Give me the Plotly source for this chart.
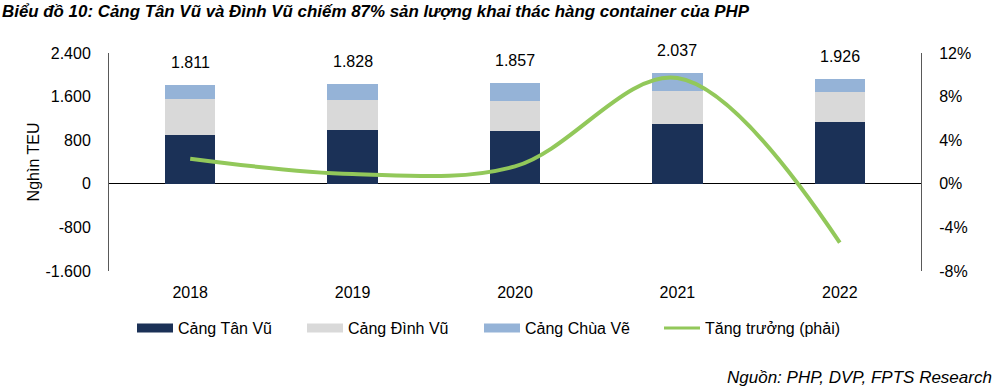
import plotly.graph_objects as go

years = ["2018", "2019", "2020", "2021", "2022"]
tan_vu = [899, 985, 972, 1095, 1132]
dinh_vu = [661, 556, 551, 606, 556]
chua_ve = [251, 287, 334, 336, 238]
totals = [1811, 1828, 1857, 2037, 1926]
total_labels = ["1.811", "1.828", "1.857", "2.037", "1.926"]
growth = [0.023, 0.009, 0.016, 0.097, -0.054]

left_tickvals = [-1600, -800, 0, 800, 1600, 2400]
left_ticktext = ["-1.600", "-800", "0", "800", "1.600", "2.400"]
right_tickvals = [-0.08, -0.04, 0, 0.04, 0.08, 0.12]
right_ticktext = ["-8%", "-4%", "0%", "4%", "8%", "12%"]

NAVY = "#1B3157"
GRAY = "#D9D9D9"
BLUE = "#95B3D7"
GREEN = "#92C85A"
FONT = "Arial, Liberation Sans, sans-serif"

fig = go.Figure()
for name, vals, col in [("Cảng Tân Vũ", tan_vu, NAVY), ("Cảng Đình Vũ", dinh_vu, GRAY), ("Cảng Chùa Vẽ", chua_ve, BLUE)]:
    fig.add_trace(go.Bar(x=years, y=vals, name=name, marker=dict(color=col, line=dict(width=0)),
                         width=0.31, showlegend=False, yaxis="y"))

fig.add_trace(go.Scatter(x=years, y=growth, name="Tăng trưởng (phải)", mode="lines",
                         line=dict(color=GREEN, width=4, shape="spline", smoothing=1),
                         yaxis="y2", showlegend=False))

# legend proxies, one legend each for exact placement
legend_items = [("Cảng Tân Vũ", NAVY, 9, "legend"), ("Cảng Đình Vũ", GRAY, 9, "legend2"),
                ("Cảng Chùa Vẽ", BLUE, 9, "legend3"), ("Tăng trưởng (phải)", GREEN, 3, "legend4")]
for name, col, w, lg in legend_items:
    fig.add_trace(go.Scatter(x=[None], y=[None], mode="lines", name=name,
                             line=dict(color=col, width=w), showlegend=True, legend=lg))

for i, (y, t) in enumerate(zip(totals, total_labels)):
    fig.add_annotation(x=i, y=y, text=t, showarrow=False, yanchor="bottom", yshift=12,
                       font=dict(size=16, color="#000000", family=FONT), xref="x", yref="y")

fig.add_annotation(text="Nguồn: PHP, DVP, FPTS Research", xref="paper", yref="paper",
                   x=(994 - 109) / 812, y=(271 - 377) / 218, xanchor="right", yanchor="middle",
                   showarrow=False, font=dict(size=17, family=FONT, color="#000000", style="italic"))


def leg(x):
    return dict(orientation="h", xref="container", yref="container", x=x, xanchor="left",
                y=1 - 328 / 392, yanchor="middle", font=dict(size=16), bgcolor="rgba(0,0,0,0)",
                itemwidth=36)


fig.update_layout(
    width=1000, height=392,
    margin=dict(l=109, r=79, t=53, b=121, autoexpand=False),
    paper_bgcolor="white", plot_bgcolor="white",
    barmode="stack",
    font=dict(family=FONT, size=16, color="#000000"),
    title=dict(text="Biểu đồ 10: Cảng Tân Vũ và Đình Vũ chiếm 87% sản lượng khai thác hàng container của PHP",
               x=0.002, xref="container", xanchor="left", y=1 - 11 / 392, yref="container", yanchor="middle",
               font=dict(size=16.9, family=FONT, weight="bold", style="italic", color="#000000")),
    xaxis=dict(type="category", range=[-0.5, 4.5], showgrid=False, showline=False, ticks="",
               tickfont=dict(size=16), ticklabelstandoff=10, zeroline=False, automargin=False),
    yaxis=dict(range=[-1600, 2400], tickvals=left_tickvals, ticktext=left_ticktext, showgrid=False,
               showline=True, linecolor="#595959", linewidth=1, ticks="", ticklabelstandoff=14,
               zeroline=True, zerolinecolor="#000000", zerolinewidth=1, automargin=False,
               title=dict(text="Nghìn TEU", font=dict(size=16), standoff=1)),
    yaxis2=dict(range=[-0.08, 0.12], overlaying="y", side="right", tickvals=right_tickvals,
                ticktext=right_ticktext, showgrid=False, showline=True, linecolor="#595959",
                linewidth=1, ticks="", ticklabelstandoff=14, zeroline=False, automargin=False),
    legend=leg(0.132), legend2=leg(0.302), legend3=leg(0.479), legend4=leg(0.659),
)

fig.write_html("out.html", config={"displayModeBar": False},
               post_script="document.body.style.margin='0';document.body.style.padding='0';")
